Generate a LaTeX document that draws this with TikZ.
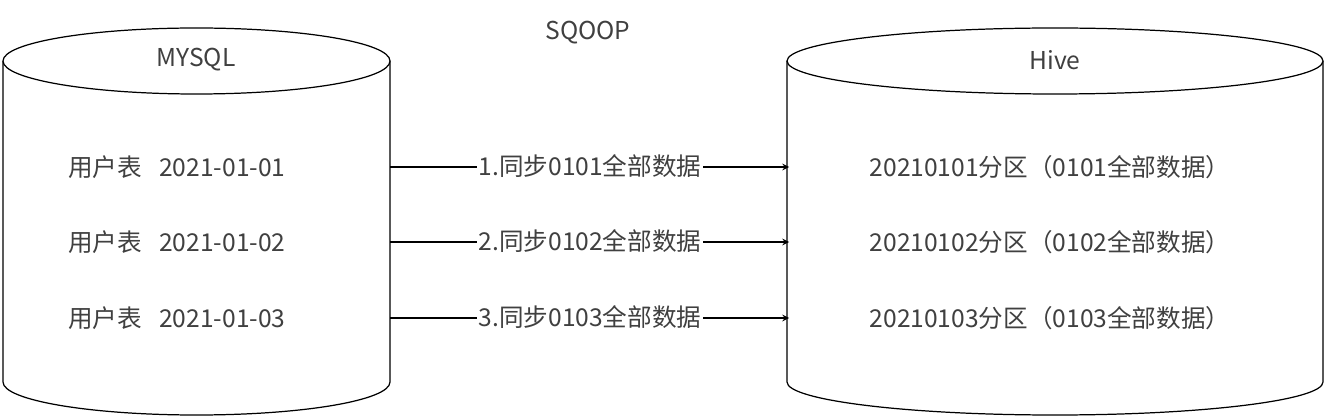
\documentclass[tikz,border=0pt]{standalone}
\usepackage{fontspec}
\setmainfont{Noto Sans CJK SC}
\begin{document}
\begin{tikzpicture}[x=0.02cm,y=-0.02cm, font=\fontsize{14}{16}\selectfont, text=black!75]
    % styles
    \tikzset{cyl/.style={draw, line width=0.7pt, fill=white},
             flow/.style={->, >=stealth, line width=0.7pt},
             lbl/.style={fill=white, inner sep=1pt}}
    \useasboundingbox (0,0) rectangle (1344,418);

    % the two databases
    \draw [cyl] (3,61) -- (3,382) arc[start angle=180, end angle=0, x radius=193.5, y radius=33] -- (390,61);
    \draw [cyl] (196.5,61) ellipse [x radius=193.5, y radius=33];
    \draw [cyl] (787,61) -- (787,382) arc[start angle=180, end angle=0, x radius=268, y radius=33] -- (1323,61);
    \draw [cyl] (1055,61) ellipse [x radius=268, y radius=33];

    % titles
    \node (sqoop) at (588,33) {SQOOP};
    \node (mysql) at (196,60) {MYSQL};
    \node (hive) at (1055,60) {Hive};

    % rows
    \foreach \i/\y in {1/167, 2/242, 3/318} {
        \node [anchor=west] (src\i) at (62,\y) {用户表\hspace{0.7em}2021-01-0\i};
        \node (dst\i) at (1050,\y) {2021010\i 分区（010\i 全部数据）};
        \coordinate (out\i) at (390,\y);
        \coordinate (in\i) at (789,\y);
        \draw [flow] (out\i) -- (in\i);
        \node [lbl] (lab\i) at (590,\y-1) {\i.同步010\i 全部数据};
    }
\end{tikzpicture}
\end{document}
